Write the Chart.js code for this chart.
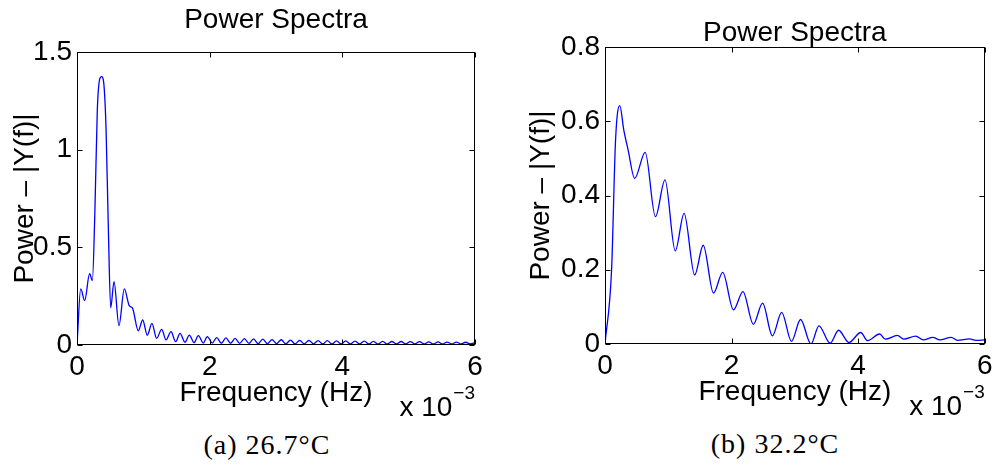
<!DOCTYPE html>
<html>
<head>
<meta charset="utf-8">
<title>Power Spectra</title>
<script src="https://cdn.jsdelivr.net/npm/chart.js@4.4.1/dist/chart.umd.min.js"></script>
<style>
  html, body { margin: 0; padding: 0; background: #fff; }
  #wrap { position: relative; width: 998px; height: 466px; overflow: hidden; }
  canvas { position: absolute; top: 0; }
  #chartA { left: 0; }
  #chartB { left: 500px; }
  .caption {
    position: absolute;
    width: 300px;
    text-align: center;
    font-family: "Liberation Serif", "DejaVu Serif", serif;
    font-size: 28px;
    line-height: 28px;
    letter-spacing: 1px;
    color: #000;
  }
</style>
</head>
<body>
<div id="wrap">
  <canvas id="chartA" width="500" height="420"></canvas>
  <canvas id="chartB" width="498" height="420"></canvas>
  <div class="caption" id="capA" style="left:117px; top:431px;">(a) 26.7°C</div>
  <div class="caption" id="capB" style="left:625px; top:430px;">(b) 32.2°C</div>
</div>
<script>
// frequency in units of 10^-3 Hz, power |Y(f)|
const freqA = [
  0, 0.056, 0.116, 0.19, 0.232, 0.27, 0.306, 0.347, 0.372, 0.397,
  0.437, 0.472, 0.508, 0.558, 0.633, 0.713, 0.79, 0.835, 0.924, 0.99,
  1.06, 1.13, 1.2, 1.277, 1.342, 1.417, 1.488, 1.553, 1.628, 1.693,
  1.764, 1.829, 1.904, 1.964, 2.04, 2.106, 2.175, 2.245, 2.315, 2.384,
  2.453, 2.523, 2.592, 2.662, 2.731, 2.801, 2.87, 2.94, 3.009, 3.079,
  3.148, 3.218, 3.287, 3.357, 3.426, 3.496, 3.565, 3.635, 3.704, 3.774,
  3.843, 3.913, 3.982, 4.052, 4.121, 4.191, 4.26, 4.33, 4.399, 4.469,
  4.538, 4.608, 4.677, 4.747, 4.816, 4.886, 4.955, 5.025, 5.094, 5.164,
  5.233, 5.303, 5.372, 5.442, 5.511, 5.581, 5.65, 5.72, 5.789, 5.859,
  5.928, 6.0
];
const powerA = [
  0, 0.287, 0.227, 0.365, 0.33, 0.69, 1.2, 1.367, 1.374, 1.357,
  1.118, 0.606, 0.19, 0.324, 0.099, 0.287, 0.2, 0.19, 0.073, 0.128,
  0.05, 0.111, 0.034, 0.08, 0.026, 0.068, 0.017, 0.06, 0.014, 0.051,
  0.012, 0.048, 0.01, 0.043, 0.01, 0.038, 0.009, 0.036, 0.009, 0.034,
  0.008, 0.033, 0.008, 0.031, 0.007, 0.03, 0.007, 0.028, 0.007, 0.027,
  0.006, 0.025, 0.006, 0.024, 0.006, 0.023, 0.006, 0.022, 0.005, 0.022,
  0.005, 0.021, 0.005, 0.021, 0.005, 0.02, 0.005, 0.02, 0.005, 0.019,
  0.005, 0.019, 0.005, 0.018, 0.005, 0.018, 0.005, 0.017, 0.005, 0.017,
  0.005, 0.016, 0.005, 0.016, 0.005, 0.015, 0.005, 0.015, 0.005, 0.014,
  0.005, 0.012
];

const freqB = [
  0, 0.104, 0.167, 0.234, 0.297, 0.365, 0.469, 0.635, 0.797, 0.948,
  1.11, 1.25, 1.417, 1.552, 1.714, 1.86, 2.03, 2.18, 2.344, 2.49,
  2.645, 2.792, 2.947, 3.09, 3.255, 3.38, 3.558, 3.69, 3.855, 4.04,
  4.15, 4.34, 4.43, 4.62, 4.72, 4.91, 5.03, 5.18, 5.29, 5.47,
  5.57, 5.76, 5.86, 6.0
];
const powerB = [
  0, 0.2, 0.55, 0.642, 0.576, 0.523, 0.446, 0.516, 0.343, 0.442,
  0.251, 0.352, 0.186, 0.266, 0.137, 0.193, 0.092, 0.141, 0.053, 0.11,
  0.022, 0.085, 0.007, 0.066, 0.0, 0.049, 0.002, 0.037, 0.004, 0.031,
  0.009, 0.027, 0.013, 0.023, 0.013, 0.021, 0.011, 0.018, 0.011, 0.018,
  0.01, 0.014, 0.01, 0.011
];

const xTicks = [0, 2, 4, 6];
const xTickLabels = ["0", "2", "4", "6"];
const yTicksA = [0, 0.5, 1, 1.5];
const yTickLabelsA = ["0", "0.5", "1", "1.5"];
const yTicksB = [0, 0.2, 0.4, 0.6, 0.8];
const yTickLabelsB = ["0", "0.2", "0.4", "0.6", "0.8"];

const titleText = "Power Spectra";
const xTitle = "Frequency (Hz)";
const yTitle = "Power \u2013 |Y(f)|";
const xExponent = "\u22123";

Chart.defaults.color = "#000";
Chart.defaults.font.family = "'Liberation Sans', Arial, Helvetica, sans-serif";

// box round the axes with inward ticks, plus the "x 10^-3" note
const matlabBox = {
  id: "matlabBox",
  afterDraw(chart) {
    const { ctx, chartArea: a, scales } = chart;
    const l = Math.round(a.left) + 0.5;
    const r = Math.round(a.right) - 0.5;
    const t = Math.round(a.top) + 0.5;
    const b = Math.round(a.bottom) - 0.5;
    const len = 5;
    ctx.save();
    ctx.strokeStyle = "#000";
    ctx.lineWidth = 1;
    ctx.strokeRect(l, t, r - l, b - t);
    ctx.beginPath();
    scales.x.ticks.forEach((tk) => {
      const px = Math.round(scales.x.getPixelForValue(tk.value)) + 0.5;
      ctx.moveTo(px, b); ctx.lineTo(px, b - len);
      ctx.moveTo(px, t); ctx.lineTo(px, t + len);
    });
    scales.y.ticks.forEach((tk) => {
      const py = Math.round(scales.y.getPixelForValue(tk.value)) + 0.5;
      ctx.moveTo(l, py); ctx.lineTo(l + len, py);
      ctx.moveTo(r, py); ctx.lineTo(r - len, py);
    });
    ctx.stroke();

    ctx.fillStyle = "#000";
    ctx.textAlign = "right";
    ctx.textBaseline = "alphabetic";
    ctx.font = "19px 'Liberation Sans', Arial, sans-serif";
    const expW = ctx.measureText(xExponent).width;
    ctx.fillText(xExponent, a.right, a.bottom + 54);
    ctx.font = "28px 'Liberation Sans', Arial, sans-serif";
    ctx.fillText("x 10", a.right - expW - 1, a.bottom + 71);
    ctx.restore();
  },
};

function makeChart(id, freq, power, yMax, yTicks, yLabels, opts) {
  const ctx = document.getElementById(id).getContext("2d");
  const points = freq.map((f, i) => ({ x: f, y: power[i] }));
  return new Chart(ctx, {
    type: "line",
    data: {
      datasets: [
        {
          data: points,
          borderColor: "#0000ff",
          borderWidth: 1.3,
          pointRadius: 0,
          fill: false,
          cubicInterpolationMode: "monotone",
        },
      ],
    },
    options: {
      responsive: false,
      animation: false,
      events: [],
      layout: { padding: { left: 0, right: opts.padRight, top: 0, bottom: opts.padBottom } },
      plugins: {
        legend: { display: false },
        tooltip: { enabled: false },
        title: {
          display: true,
          text: titleText,
          fullSize: false,
          font: { size: 28, weight: "normal", lineHeight: 1 },
          padding: { top: opts.titleTop, bottom: opts.titleBottom },
        },
      },
      scales: {
        x: {
          type: "linear",
          min: 0,
          max: 6,
          afterBuildTicks: (s) => { s.ticks = xTicks.map((v) => ({ value: v })); },
          afterFit: (s) => { s.height = 65; },
          ticks: {
            callback: (v, i) => xTickLabels[i],
            font: { size: 28 },
            padding: 5.5,
            maxRotation: 0,
            autoSkip: false,
          },
          grid: { display: false, drawTicks: false },
          border: { display: false },
          title: {
            display: true,
            text: xTitle,
            font: { size: 28 },
            padding: { top: 0, bottom: 0 },
          },
        },
        y: {
          type: "linear",
          min: 0,
          max: yMax,
          afterBuildTicks: (s) => { s.ticks = yTicks.map((v) => ({ value: v })); },
          afterFit: (s) => { s.width = opts.yWidth; },
          ticks: {
            callback: (v, i) => yLabels[i],
            font: { size: 28 },
            padding: 5,
            autoSkip: false,
          },
          grid: { display: false, drawTicks: false },
          border: { display: false },
          title: {
            display: true,
            text: yTitle,
            font: { size: 28, lineHeight: 1 },
            padding: { top: opts.yTitlePad, bottom: 0 },
          },
        },
      },
    },
    plugins: [matlabBox],
  });
}

makeChart("chartA", freqA, powerA, 1.5, yTicksA, yTickLabelsA, {
  padRight: 25, padBottom: 10, titleTop: 6, titleBottom: 18, yWidth: 77, yTitlePad: 11,
});
makeChart("chartB", freqB, powerB, 0.8, yTicksB, yTickLabelsB, {
  padRight: 9, padBottom: 11, titleTop: 19, titleBottom: 0, yWidth: 105, yTitlePad: 27,
});
</script>
</body>
</html>
